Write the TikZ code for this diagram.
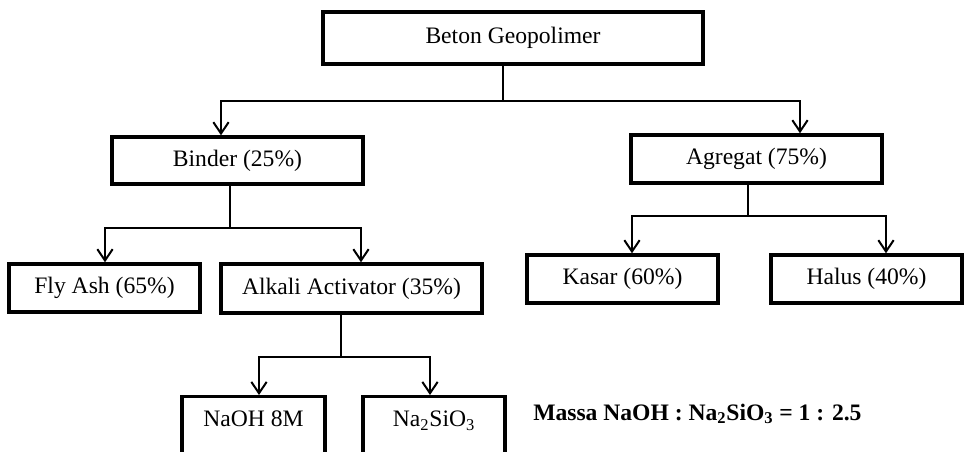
\documentclass[tikz,border=0pt]{standalone}
\usepackage{fontspec}
\setmainfont{Liberation Serif}
\usetikzlibrary{arrows.meta}
\def\px{0.75pt}
\begin{document}
\begin{tikzpicture}[x=0.75pt,y=-0.75pt,
  box/.style={draw, line width=2.6pt, inner sep=0pt, font=\fontsize{17.7}{20}\selectfont, align=center},
  conn/.style={line width=1.5pt},
  arr/.style={line width=1.5pt, -{Straight Barb[length=8.5pt,width=11.5pt]}},
  note/.style={font=\fontsize{17.7}{20}\selectfont\bfseries, inner sep=0pt}
]
\useasboundingbox (0,0) rectangle (965,451);
\clip (0,0) rectangle (965,451);

% boxes
\node[box, minimum width=380*\px, minimum height=52*\px] (beton) at (513,38) {Beton Geopolimer};
\node[box, minimum width=251*\px, minimum height=47*\px] (binder) at (237.5,160.5) {Binder (25\%)};
\node[box, minimum width=251*\px, minimum height=48*\px] (agregat) at (756.5,159) {Agregat (75\%)};
\node[box, minimum width=191*\px, minimum height=48*\px] (flyash) at (104.5,288) {Fly Ash (65\%)};
\node[box, minimum width=261*\px, minimum height=49*\px] (alkali) at (351.5,288.5) {Alkali Activator (35\%)};
\node[box, minimum width=191*\px, minimum height=48*\px] (kasar) at (622.5,279) {Kasar (60\%)};
\node[box, minimum width=191*\px, minimum height=48*\px] (halus) at (866.5,279) {Halus (40\%)};
\node[box, anchor=north, minimum width=143*\px, text height=30*\px, text depth=80*\px] (naoh) at (253.5,395) {NaOH 8M};
\node[box, anchor=north, minimum width=142*\px, text height=30*\px, text depth=80*\px] (nasi) at (434,395) {Na\textsubscript{2}SiO\textsubscript{3}};

\node[note, anchor=base west] (ratio) at (533,420) {Massa NaOH : Na\textsubscript{2}SiO\textsubscript{3} = 1 : 2.5};

% junctions
\coordinate (j1) at (503,101);
\coordinate (j1l) at (221,101);
\coordinate (j1r) at (800,101);
\coordinate (j2) at (230,228);
\coordinate (j2l) at (105,228);
\coordinate (j2r) at (361,228);
\coordinate (j3) at (341,357);
\coordinate (j3l) at (259,357);
\coordinate (j3r) at (430,357);
\coordinate (j4) at (748,216);
\coordinate (j4l) at (632,216);
\coordinate (j4r) at (886,216);

% connectors
\draw[conn] (beton.south -| j1) -- (j1);
\draw[arr] (j1) -- (j1l) -- (binder.north -| j1l);
\draw[arr] (j1) -- (j1r) -- (agregat.north -| j1r);

\draw[conn] (binder.south -| j2) -- (j2);
\draw[arr] (j2) -- (j2l) -- (flyash.north -| j2l);
\draw[arr] (j2) -- (j2r) -- (alkali.north -| j2r);

\draw[conn] (alkali.south -| j3) -- (j3);
\draw[arr] (j3) -- (j3l) -- (naoh.north -| j3l);
\draw[arr] (j3) -- (j3r) -- (nasi.north -| j3r);

\draw[conn] (agregat.south -| j4) -- (j4);
\draw[arr] (j4) -- (j4l) -- (kasar.north -| j4l);
\draw[arr] (j4) -- (j4r) -- (halus.north -| j4r);
\end{tikzpicture}
\end{document}
